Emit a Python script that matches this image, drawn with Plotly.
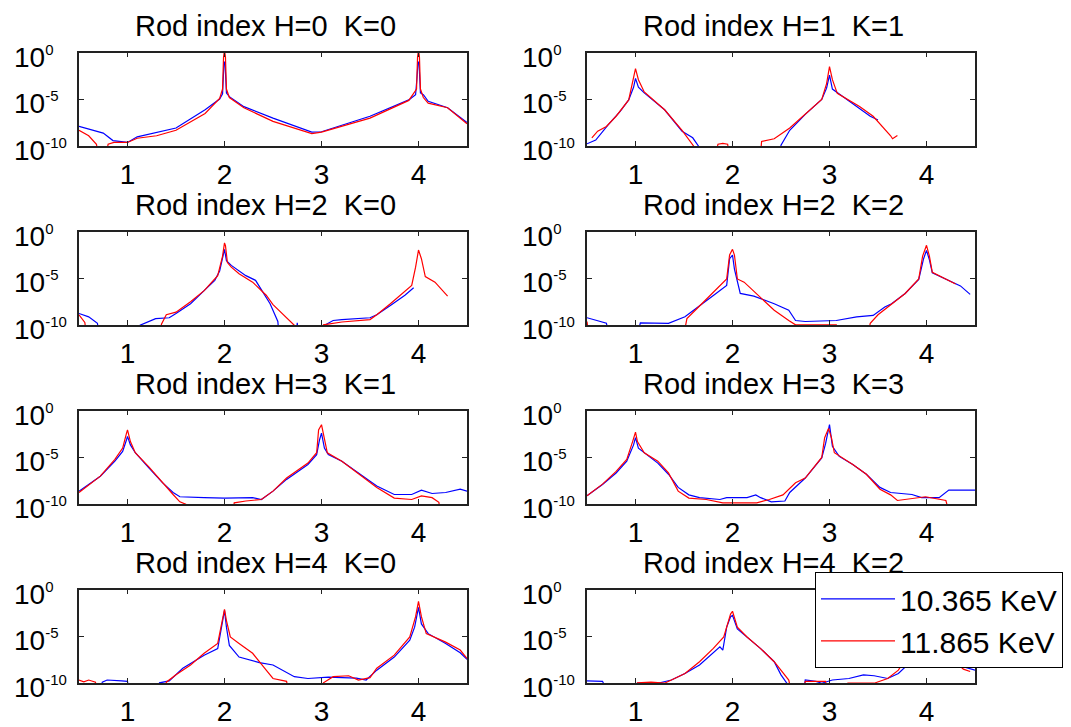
import math
import plotly.graph_objects as go

# ---------------- data ----------------
# values below the plotted range (< 1e-10) are recorded as 1e-12
series_names = ["10.365 KeV", "11.865 KeV"]
panel_titles = ["Rod index H=0  K=0", "Rod index H=1  K=1",
                "Rod index H=2  K=0", "Rod index H=2  K=2",
                "Rod index H=3  K=1", "Rod index H=3  K=3",
                "Rod index H=4  K=0", "Rod index H=4  K=2"]
x_ticks = [1, 2, 3, 4]
y_ticks = [1e-10, 1e-5, 1e0]
y_tick_exponents = ["-10", "-5", "0"]

# H=0 K=0
h0k0_blue_x = [0.5, 0.75, 0.85, 1.0, 1.1, 1.5, 1.8, 1.95, 1.98, 1.985, 1.995, 2.005, 2.015, 2.02, 2.05, 2.2, 2.5, 2.9, 3.0, 3.5, 3.9, 3.97, 3.985, 3.995, 4.005, 4.015, 4.02, 4.05, 4.1, 4.3, 4.5]
h0k0_blue_y = [1.3e-8, 2.5e-9, 4.0e-10, 2.5e-10, 1.0e-9, 8.9e-9, 7.9e-7, 1.1e-5, 4.0e-5, 2.5e-3, 0.1, 0.1, 2.5e-3, 5.0e-5, 2.0e-5, 1.7e-6, 1.0e-7, 3.2e-9, 3.5e-9, 1.6e-7, 8.9e-6, 3.2e-5, 2.5e-3, 0.1, 0.1, 2.5e-3, 5.0e-5, 3.2e-5, 6.3e-6, 1.3e-6, 3.5e-8]
h0k0_red_x = [0.5, 0.6, 0.68, 0.72, 0.76, 0.8, 0.86, 1.0, 1.1, 1.3, 1.5, 1.8, 1.95, 1.98, 1.99, 2.0, 2.01, 2.02, 2.05, 2.2, 2.5, 2.9, 3.0, 3.5, 3.9, 3.98, 3.99, 4.0, 4.01, 4.02, 4.05, 4.1, 4.3, 4.5]
h0k0_red_y = [5.0e-9, 1.3e-9, 1.6e-10, 1e-12, 1e-12, 1.6e-10, 2.5e-10, 2.5e-10, 7.1e-10, 1.3e-9, 5.0e-9, 3.2e-7, 1.3e-5, 1.3e-4, 0.32, 2.0, 0.32, 1.3e-4, 1.6e-5, 1.3e-6, 4.5e-8, 2.2e-9, 3.2e-9, 1.0e-7, 7.9e-6, 1.3e-4, 0.32, 2.0, 0.32, 1.3e-4, 1.6e-5, 4.0e-6, 1.3e-6, 2.5e-8]

# H=1 K=1
h1k1_blue_x = [0.5, 0.59, 0.72, 0.84, 0.93, 0.98, 1.0, 1.03, 1.09, 1.3, 1.48, 1.59, 1.65, 1.68, 2.48, 2.5, 2.59, 2.75, 2.92, 2.97, 3.0, 3.03, 3.14, 3.42, 3.5]
h1k1_blue_y = [1.8e-10, 4.5e-10, 2.0e-8, 5.0e-7, 8.9e-6, 2.0e-4, 1.8e-3, 2.0e-4, 5.0e-5, 7.9e-7, 4.0e-9, 7.9e-10, 1.0e-10, 1e-12, 1e-12, 1.3e-10, 5.0e-9, 2.5e-7, 1.0e-5, 1.6e-4, 4.0e-3, 1.3e-4, 2.0e-5, 1.6e-7, 6.3e-8]
h1k1_red_x = [0.55, 0.61, 0.7, 0.8, 0.93, 0.98, 1.0, 1.03, 1.09, 1.3, 1.48, 1.6, 1.62, 1.8, 1.85, 1.9, 1.95, 1.98, 2.28, 2.3, 2.43, 2.59, 2.75, 2.92, 2.97, 3.0, 3.03, 3.08, 3.31, 3.45, 3.63, 3.65, 3.7]
h1k1_red_y = [7.9e-10, 4.0e-9, 1.3e-8, 1.6e-7, 8.9e-6, 1.3e-3, 2.0e-2, 1.3e-3, 6.3e-5, 7.9e-7, 5.0e-9, 1.0e-10, 1e-12, 1e-12, 1.6e-10, 2.0e-10, 1.6e-10, 1e-12, 1e-12, 3.2e-10, 6.3e-10, 8.9e-9, 2.5e-7, 1.0e-5, 5.0e-4, 3.2e-2, 1.3e-3, 4.5e-5, 1.8e-6, 1.6e-7, 1.3e-9, 6.3e-10, 1.4e-9]

# H=2 K=0
h2k0_blue_x = [0.5, 0.6, 0.69, 0.72, 1.1, 1.13, 1.29, 1.43, 1.5, 1.65, 1.79, 1.9, 1.95, 1.99, 2.0, 2.02, 2.07, 2.22, 2.32, 2.47, 2.55, 2.57, 2.73, 2.75, 2.77, 3.02, 3.04, 3.12, 3.21, 3.5, 3.57, 3.71, 3.86, 3.95]
h2k0_blue_y = [1.8e-9, 7.9e-10, 1.6e-10, 1e-12, 1e-12, 1.0e-10, 5.0e-10, 6.3e-10, 1.8e-9, 2.0e-8, 5.0e-7, 6.3e-6, 6.3e-5, 2.5e-3, 1.3e-2, 7.9e-4, 2.5e-4, 2.0e-5, 6.3e-6, 2.0e-8, 2.5e-10, 1e-12, 1e-12, 1.8e-10, 1e-12, 1e-12, 1.1e-10, 3.2e-10, 4.0e-10, 6.3e-10, 1.3e-9, 1.3e-8, 1.6e-7, 1.0e-6]
h2k0_red_x = [0.5, 0.56, 0.59, 1.33, 1.35, 1.4, 1.5, 1.65, 1.79, 1.93, 1.98, 2.0, 2.01, 2.03, 2.07, 2.15, 2.29, 2.43, 2.5, 2.61, 2.72, 2.74, 3.0, 3.02, 3.21, 3.5, 3.57, 3.71, 3.86, 3.93, 3.97, 4.0, 4.03, 4.07, 4.17, 4.3]
h2k0_red_y = [1.3e-9, 2.0e-10, 1e-12, 1e-12, 1.3e-10, 1.3e-9, 2.5e-9, 3.2e-8, 5.0e-7, 2.0e-5, 2.5e-3, 6.3e-2, 3.2e-2, 5.0e-4, 1.6e-4, 3.2e-5, 4.0e-6, 1.6e-7, 1.6e-8, 1.3e-9, 1.0e-10, 1e-12, 1e-12, 1.1e-10, 2.2e-10, 4.0e-10, 1.3e-9, 2.0e-8, 4.0e-7, 1.8e-6, 1.6e-4, 1.1e-2, 1.3e-3, 1.6e-5, 4.0e-6, 1.3e-7]

# H=2 K=2
h2k2_blue_x = [0.5, 0.7, 0.75, 1.0, 1.05, 1.34, 1.51, 1.65, 1.83, 1.94, 1.97, 2.0, 2.02, 2.08, 2.22, 2.43, 2.58, 2.65, 2.75, 3.07, 3.28, 3.45, 3.57, 3.64, 3.78, 3.92, 3.97, 4.0, 4.03, 4.06, 4.2, 4.35, 4.45]
h2k2_blue_y = [6.3e-10, 1.6e-10, 1e-12, 1e-12, 1.8e-10, 1.6e-10, 7.9e-10, 8.9e-9, 2.5e-7, 1.8e-6, 1.3e-3, 3.2e-3, 1.0e-4, 2.5e-7, 1.3e-7, 2.0e-8, 4.0e-9, 3.2e-10, 2.5e-10, 3.2e-10, 7.9e-10, 1.1e-9, 8.9e-9, 2.0e-8, 2.5e-7, 7.9e-6, 1.3e-3, 1.0e-2, 1.0e-3, 4.0e-5, 7.9e-6, 1.6e-6, 2.0e-7]
h2k2_red_x = [0.5, 0.53, 1.48, 1.53, 1.65, 1.83, 1.94, 1.97, 2.0, 2.02, 2.05, 2.12, 2.29, 2.43, 2.58, 2.65, 3.07, 3.1, 3.38, 3.42, 3.5, 3.64, 3.78, 3.92, 3.96, 4.0, 4.03, 4.06, 4.2, 4.3]
h2k2_red_y = [2.5e-10, 1e-12, 1e-12, 5.0e-10, 8.9e-9, 6.3e-7, 8.9e-6, 3.2e-3, 1.3e-2, 3.2e-3, 8.9e-6, 4.0e-6, 1.0e-7, 4.0e-9, 3.2e-10, 1.1e-10, 1.1e-10, 1e-12, 1e-12, 1.6e-10, 1.3e-9, 2.0e-8, 2.5e-7, 8.9e-6, 2.5e-3, 3.5e-2, 2.5e-3, 4.5e-5, 8.9e-6, 2.5e-6]

# H=3 K=1
h3k1_blue_x = [0.5, 0.72, 0.87, 0.95, 0.99, 1.0, 1.03, 1.08, 1.22, 1.36, 1.47, 1.54, 1.79, 2.0, 2.29, 2.38, 2.5, 2.64, 2.86, 2.95, 2.98, 3.0, 3.03, 3.07, 3.21, 3.35, 3.57, 3.75, 3.93, 4.03, 4.14, 4.28, 4.43, 4.5]
h3k1_blue_y = [2.5e-9, 1.0e-7, 4.0e-6, 4.5e-5, 7.9e-4, 1.8e-3, 2.2e-4, 3.2e-5, 7.9e-7, 2.0e-8, 1.8e-9, 6.3e-10, 5.0e-10, 4.5e-10, 5.0e-10, 3.2e-10, 2.5e-9, 4.5e-8, 1.8e-6, 2.0e-5, 7.9e-4, 4.0e-3, 1.0e-4, 2.0e-5, 4.0e-6, 3.5e-7, 8.9e-9, 1.1e-9, 1.1e-9, 3.2e-9, 1.4e-9, 1.8e-9, 4.0e-9, 2.5e-9]
h3k1_red_x = [0.5, 0.72, 0.87, 0.95, 0.99, 1.0, 1.03, 1.08, 1.22, 1.36, 1.47, 1.54, 1.6, 1.63, 2.08, 2.1, 2.22, 2.38, 2.5, 2.64, 2.86, 2.95, 2.97, 3.0, 3.02, 3.06, 3.21, 3.35, 3.57, 3.75, 3.93, 4.03, 4.14, 4.21, 4.24]
h3k1_red_y = [1.8e-9, 1.0e-7, 6.3e-6, 1.0e-4, 4.0e-3, 8.9e-3, 5.0e-4, 3.2e-5, 1.0e-6, 2.0e-8, 1.1e-9, 1.8e-10, 1.0e-10, 1e-12, 1e-12, 1.4e-10, 2.2e-10, 3.2e-10, 2.5e-9, 6.3e-8, 2.5e-6, 3.2e-5, 8.9e-3, 3.2e-2, 4.0e-3, 3.2e-5, 4.0e-6, 3.5e-7, 6.3e-9, 4.5e-10, 3.2e-10, 7.9e-10, 5.0e-10, 1.6e-10, 1e-12]

# H=3 K=3
h3k3_blue_x = [0.5, 0.66, 0.8, 0.91, 0.98, 1.0, 1.03, 1.09, 1.23, 1.34, 1.44, 1.55, 1.66, 1.87, 1.94, 2.15, 2.24, 2.29, 2.4, 2.54, 2.59, 2.75, 2.92, 2.96, 3.0, 3.03, 3.1, 3.24, 3.38, 3.52, 3.63, 3.85, 3.95, 4.13, 4.23, 4.5]
h3k3_blue_y = [7.9e-10, 1.3e-8, 2.2e-7, 4.0e-6, 2.2e-4, 1.3e-3, 1.0e-4, 3.2e-5, 2.5e-6, 1.6e-7, 6.3e-9, 1.0e-9, 5.0e-10, 3.2e-10, 5.0e-10, 5.0e-10, 1.0e-9, 5.0e-10, 1.8e-10, 2.2e-10, 1.8e-9, 6.3e-8, 8.9e-6, 3.2e-4, 3.2e-2, 1.6e-4, 1.3e-5, 1.8e-6, 1.6e-7, 6.3e-9, 1.8e-9, 1.1e-9, 5.0e-10, 5.0e-10, 3.2e-9, 3.2e-9]
h3k3_red_x = [0.5, 0.66, 0.8, 0.91, 0.97, 1.0, 1.02, 1.09, 1.23, 1.34, 1.44, 1.55, 1.73, 1.87, 1.9, 2.25, 2.38, 2.52, 2.65, 2.75, 2.92, 2.95, 2.99, 3.02, 3.05, 3.24, 3.38, 3.52, 3.63, 3.7, 3.85, 3.99, 4.2, 4.26]
h3k3_red_y = [7.9e-10, 1.4e-8, 3.2e-7, 6.3e-6, 5.0e-4, 5.0e-3, 5.0e-4, 3.2e-5, 4.0e-6, 2.2e-7, 2.5e-9, 4.5e-10, 3.2e-10, 1.8e-10, 1.4e-10, 1.4e-10, 3.2e-10, 1.0e-9, 2.0e-8, 6.3e-8, 1.0e-5, 1.3e-3, 1.3e-2, 1.3e-3, 3.2e-5, 1.8e-6, 1.6e-7, 4.0e-9, 1.0e-9, 2.5e-10, 4.0e-10, 6.3e-10, 2.5e-10, 1e-12]

# H=4 K=0
h4k0_blue_x = [0.5, 0.7, 0.74, 0.79, 0.94, 1.0, 1.03, 1.31, 1.33, 1.43, 1.57, 1.79, 1.93, 1.97, 2.0, 2.02, 2.05, 2.15, 2.36, 2.5, 2.72, 2.86, 3.07, 3.36, 3.46, 3.57, 3.75, 3.91, 3.96, 4.0, 4.03, 4.1, 4.28, 4.43, 4.5]
h4k0_blue_y = [1e-12, 1e-12, 1.3e-10, 2.2e-10, 1.8e-10, 1.6e-10, 1e-12, 1e-12, 1.1e-10, 1.8e-10, 4.0e-9, 1.0e-7, 5.0e-7, 1.0e-4, 6.3e-3, 1.0e-4, 1.1e-6, 6.3e-8, 1.6e-8, 8.9e-9, 5.0e-10, 3.2e-10, 4.5e-10, 3.5e-10, 2.2e-10, 2.5e-9, 6.3e-8, 4.0e-6, 1.0e-4, 1.3e-2, 2.2e-4, 2.0e-5, 1.8e-6, 1.8e-7, 3.5e-8]
h4k0_red_x = [0.5, 0.55, 0.6, 0.67, 0.69, 1.38, 1.4, 1.5, 1.65, 1.79, 1.93, 1.98, 2.0, 2.02, 2.06, 2.15, 2.29, 2.43, 2.5, 2.64, 2.68, 3.0, 3.02, 3.12, 3.28, 3.38, 3.5, 3.57, 3.75, 3.91, 3.97, 4.0, 4.03, 4.08, 4.28, 4.43, 4.5]
h4k0_red_y = [2.2e-10, 1.4e-10, 2.2e-10, 1.3e-10, 1e-12, 1e-12, 1.3e-10, 7.9e-10, 8.9e-9, 1.6e-7, 1.8e-6, 7.9e-4, 7.9e-3, 5.0e-4, 8.9e-6, 1.8e-6, 1.6e-7, 2.5e-9, 3.2e-10, 1.6e-10, 1e-12, 1e-12, 1.1e-10, 5.0e-10, 6.3e-10, 2.2e-10, 4.0e-10, 4.0e-9, 1.0e-7, 8.9e-6, 1.3e-3, 5.6e-2, 1.3e-3, 2.0e-5, 2.5e-6, 3.5e-7, 4.5e-8]

# H=4 K=2
h4k2_blue_x = [0.5, 0.66, 0.76, 1.0, 1.02, 1.23, 1.37, 1.51, 1.66, 1.8, 1.87, 1.9, 1.94, 1.98, 2.0, 2.05, 2.15, 2.29, 2.43, 2.5, 2.56, 2.58, 2.72, 2.75, 2.86, 2.92, 3.03, 3.2, 3.35, 3.46, 3.6, 3.71, 3.82, 3.9, 3.97, 4.0, 4.03, 4.08, 4.15, 4.28, 4.35, 4.5]
h4k2_blue_y = [1.8e-10, 1.6e-10, 1e-12, 1e-12, 1.0e-10, 1.0e-10, 2.2e-10, 1.1e-9, 8.9e-9, 1.6e-7, 7.9e-7, 3.5e-7, 1.0e-4, 1.3e-3, 1.8e-3, 6.3e-5, 8.9e-6, 5.0e-7, 2.0e-8, 7.9e-10, 1.0e-10, 1e-12, 1e-12, 2.2e-10, 1.6e-10, 1.0e-10, 2.2e-10, 3.2e-10, 7.9e-10, 6.3e-10, 3.2e-10, 1.1e-9, 1.3e-8, 1.0e-6, 3.2e-4, 3.2e-3, 1.0e-4, 6.3e-8, 6.3e-9, 8.9e-9, 7.1e-9, 2.5e-9]
h4k2_red_x = [1.0, 1.02, 1.16, 1.3, 1.37, 1.51, 1.66, 1.8, 1.91, 1.98, 2.0, 2.05, 2.15, 2.29, 2.43, 2.58, 2.63, 2.72, 2.75, 2.96, 2.98, 3.17, 3.19, 3.46, 3.6, 3.71, 3.78, 3.9, 3.97, 4.0, 4.03, 4.15, 4.3, 4.38, 4.45]
h4k2_red_y = [1e-12, 1.1e-10, 1.3e-10, 1.0e-10, 2.2e-10, 1.1e-9, 2.0e-8, 5.0e-7, 8.9e-6, 2.5e-3, 5.0e-3, 1.0e-4, 8.9e-6, 5.0e-7, 2.0e-8, 2.2e-10, 1e-12, 1e-12, 1.6e-10, 1.6e-10, 1e-12, 1e-12, 1.0e-10, 1.0e-10, 3.2e-10, 2.5e-9, 3.2e-8, 3.2e-6, 1.0e-3, 1.0e-2, 3.2e-4, 1.0e-6, 2.0e-8, 3.2e-9, 1.8e-9]

panels = [
    (h0k0_blue_x, h0k0_blue_y, h0k0_red_x, h0k0_red_y),
    (h1k1_blue_x, h1k1_blue_y, h1k1_red_x, h1k1_red_y),
    (h2k0_blue_x, h2k0_blue_y, h2k0_red_x, h2k0_red_y),
    (h2k2_blue_x, h2k2_blue_y, h2k2_red_x, h2k2_red_y),
    (h3k1_blue_x, h3k1_blue_y, h3k1_red_x, h3k1_red_y),
    (h3k3_blue_x, h3k3_blue_y, h3k3_red_x, h3k3_red_y),
    (h4k0_blue_x, h4k0_blue_y, h4k0_red_x, h4k0_red_y),
    (h4k2_blue_x, h4k2_blue_y, h4k2_red_x, h4k2_red_y),
]

# ---------------- layout (pixel geometry) ----------------
W, H = 1071, 727
FONT = "Liberation Sans, Arial, Helvetica, sans-serif"
col_px = [(79, 467), (587, 975)]
row_px = [(53, 147), (233, 327), (413, 507), (593, 687)]
title_cx = [265, 773]
label_left = [12, 520]

def px(x):
    return x / W

def py(y):
    return 1 - y / H

fig = go.Figure()
layout = dict(
    width=W, height=H, autosize=False,
    margin=dict(l=0, r=0, t=0, b=0),
    paper_bgcolor="white", plot_bgcolor="white",
    font=dict(family=FONT, size=28, color="black"),
    showlegend=True,
    legend=dict(
        x=px(815), y=py(575), xanchor="left", yanchor="top",
        bgcolor="white", bordercolor="black", borderwidth=1,
        font=dict(family=FONT, size=30, color="black"),
        itemwidth=74, tracegroupgap=0,
    ),
)
annotations = []

for i, (bx, by, rx, ry) in enumerate(panels):
    r, c = divmod(i, 2)
    n = "" if i == 0 else str(i + 1)
    xa, ya = "x" + n, "y" + n
    x0, x1 = col_px[c]
    y0, y1 = row_px[r]
    fig.add_trace(go.Scatter(x=bx, y=by, xaxis=xa, yaxis=ya, mode="lines",
                             line=dict(color="#0000ff", width=1.2),
                             name=series_names[0], showlegend=(i == 0)))
    fig.add_trace(go.Scatter(x=rx, y=ry, xaxis=xa, yaxis=ya, mode="lines",
                             line=dict(color="#ff0000", width=1.2),
                             name=series_names[1], showlegend=(i == 0)))
    layout["xaxis" + n] = dict(
        domain=[px(x0), px(x1)], anchor=ya, range=[0.5, 4.5],
        tickvals=x_ticks, ticks="inside", ticklen=5, tickcolor="#222",
        showline=True, linecolor="#222", linewidth=1.5, mirror="allticks",
        showgrid=False, zeroline=False,
        tickfont=dict(family=FONT, size=28, color="black"),
        ticklabelstandoff=2,
    )
    layout["yaxis" + n] = dict(
        domain=[py(y1), py(y0)], anchor=xa, type="log", range=[-10, 0],
        tickvals=y_ticks, ticks="inside", ticklen=5, tickcolor="#222",
        showline=True, linecolor="#222", linewidth=1.5, mirror="allticks",
        showgrid=False, zeroline=False, showticklabels=False,
    )
    annotations.append(dict(
        text=panel_titles[i], x=px(title_cx[c]), y=py(y0 - 27),
        xref="paper", yref="paper", xanchor="center", yanchor="middle",
        showarrow=False, font=dict(family=FONT, size=29, color="black"),
    ))
    for tv, ex in zip(y_ticks, y_tick_exponents):
        annotations.append(dict(
            text='10<sup><span style="font-size:15px">' + ex + "</span></sup>",
            x=px(label_left[c]), y=math.log10(tv),
            xref="paper", yref=ya, xanchor="left", yanchor="middle",
            yshift=-4, showarrow=False,
            font=dict(family=FONT, size=28, color="black"),
        ))

layout["annotations"] = annotations
fig.update_layout(**layout)
fig.write_html("out.html")
